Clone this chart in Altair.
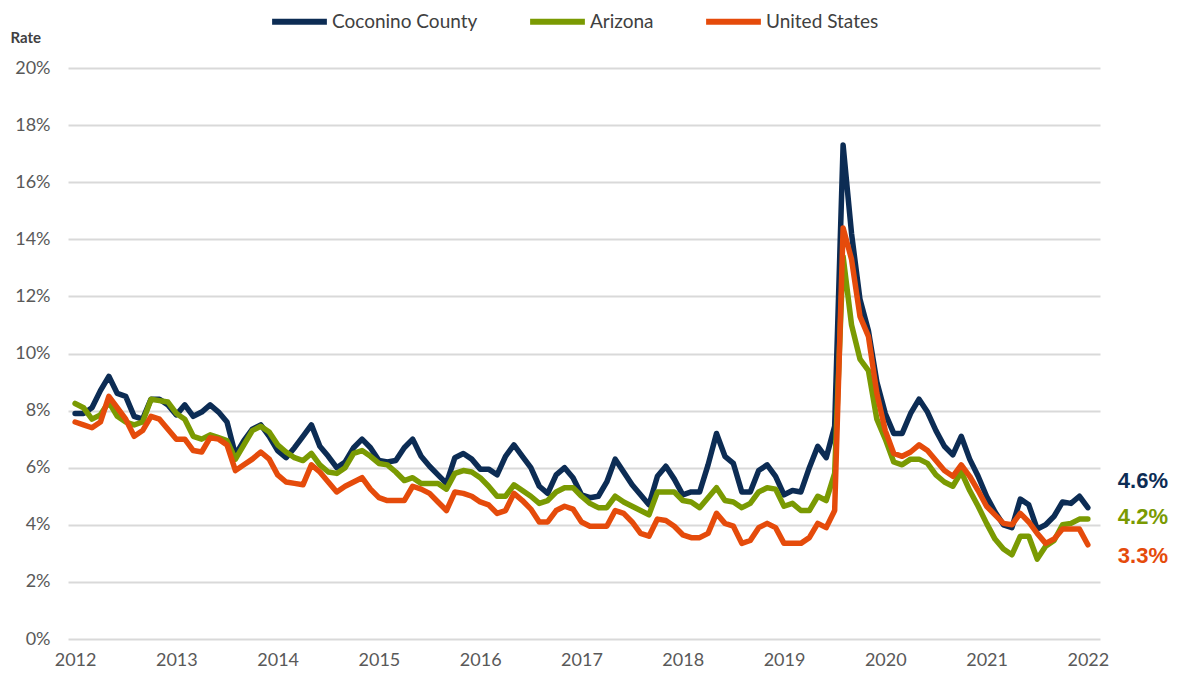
import altair as alt
import pandas as pd

series_names = ["Coconino County", "Arizona", "United States"]
colors = ["#0c2c54", "#7a9a02", "#e54b0b"]
start_year = 2012

coconino = [7.9, 7.9, 8.1, 8.7, 9.2, 8.6, 8.5, 7.8, 7.7, 8.4, 8.4, 8.2, 7.85, 8.2, 7.8, 7.95, 8.2, 7.95, 7.6, 6.45,
            6.95, 7.35, 7.5, 7.1, 6.6, 6.35, 6.7, 7.1, 7.5, 6.75, 6.4, 6.0, 6.2, 6.7, 7.0, 6.7, 6.25, 6.2, 6.25, 6.7,
            7.0, 6.4, 6.05, 5.75, 5.45, 6.35, 6.5, 6.3, 5.95, 5.95, 5.75, 6.4, 6.8, 6.4, 6.0, 5.35, 5.1, 5.75, 6.0, 5.65,
            5.05, 4.95, 5.0, 5.5, 6.3, 5.85, 5.4, 5.05, 4.7, 5.7, 6.05, 5.6, 5.05, 5.15, 5.15, 6.1, 7.2, 6.4, 6.15, 5.15,
            5.15, 5.9, 6.1, 5.7, 5.05, 5.2, 5.15, 6.0, 6.75, 6.35, 7.45, 17.3, 14.2, 11.9, 10.8, 9.0, 7.9, 7.2, 7.2, 7.9,
            8.4, 7.95, 7.3, 6.75, 6.45, 7.1, 6.3, 5.7, 5.0, 4.45, 4.0, 3.9, 4.9, 4.7, 3.85, 4.0, 4.3, 4.8, 4.75, 5.0,
            4.6]
arizona = [8.25, 8.1, 7.7, 7.85, 8.3, 7.8, 7.6, 7.5, 7.6, 8.4, 8.35, 8.3, 7.9, 7.7, 7.1, 7.0, 7.15, 7.05, 6.95, 6.3,
           6.8, 7.3, 7.45, 7.25, 6.8, 6.55, 6.35, 6.25, 6.5, 6.1, 5.85, 5.8, 6.0, 6.5, 6.6, 6.4, 6.15, 6.1, 5.85, 5.55,
           5.65, 5.45, 5.45, 5.45, 5.25, 5.8, 5.9, 5.85, 5.65, 5.35, 5.0, 5.0, 5.4, 5.2, 5.0, 4.75, 4.85, 5.15, 5.3, 5.3,
           5.0, 4.75, 4.6, 4.6, 5.0, 4.8, 4.65, 4.5, 4.35, 5.15, 5.15, 5.15, 4.85, 4.8, 4.6, 4.95, 5.3, 4.85, 4.8, 4.6,
           4.75, 5.15, 5.3, 5.25, 4.65, 4.75, 4.5, 4.5, 5.0, 4.85, 5.8, 13.4, 11.0, 9.8, 9.4, 7.7, 7.0, 6.2, 6.1, 6.3,
           6.3, 6.15, 5.75, 5.5, 5.35, 5.85, 5.2, 4.65, 4.05, 3.5, 3.15, 2.95, 3.6, 3.6, 2.8, 3.25, 3.45, 4.0, 4.05, 4.2,
           4.2]
united_states = [7.6, 7.5, 7.4, 7.6, 8.5, 8.1, 7.7, 7.1, 7.3, 7.8, 7.7, 7.35, 7.0, 7.0, 6.6, 6.55, 7.05, 7.0, 6.8, 5.9,
                 6.1, 6.3, 6.55, 6.3, 5.75, 5.5, 5.45, 5.4, 6.1, 5.85, 5.5, 5.15, 5.35, 5.5, 5.65, 5.25, 4.95, 4.85, 4.85, 4.85,
                 5.35, 5.25, 5.1, 4.8, 4.5, 5.15, 5.1, 5.0, 4.8, 4.7, 4.4, 4.5, 5.1, 4.85, 4.55, 4.1, 4.1, 4.5, 4.65, 4.55,
                 4.1, 3.95, 3.95, 3.95, 4.5, 4.4, 4.1, 3.7, 3.6, 4.2, 4.15, 3.95, 3.65, 3.55, 3.55, 3.7, 4.4, 4.05, 3.95, 3.35,
                 3.45, 3.9, 4.05, 3.9, 3.35, 3.35, 3.35, 3.55, 4.05, 3.9, 4.5, 14.4, 13.3, 11.3, 10.6, 8.6, 7.3, 6.5, 6.4, 6.55,
                 6.8, 6.6, 6.25, 5.9, 5.7, 6.1, 5.7, 5.2, 4.65, 4.35, 4.05, 4.0, 4.4, 4.1, 3.7, 3.35, 3.5, 3.85, 3.85, 3.85,
                 3.3]
end_labels = ["4.6%", "4.2%", "3.3%"]
x_ticks = list(range(2012, 2023))
y_ticks = list(range(0, 21, 2))

all_series = [coconino, arizona, united_states]
rows = []
for k, (name, vals) in enumerate(zip(series_names, all_series)):
    for i, v in enumerate(vals):
        rows.append({"series": name, "t": start_year + i / 12, "rate": v, "k": k})
df = pd.DataFrame(rows)

xscale = alt.Scale(domain=[2011.93, 2022.12], nice=False, zero=False)
yscale = alt.Scale(domain=[0, 20], nice=False)
color_scale = alt.Scale(domain=series_names, range=colors)

lines = alt.Chart(df).mark_line(strokeWidth=5.5, strokeJoin="round", strokeCap="round").encode(
    x=alt.X("t:Q", scale=xscale,
            axis=alt.Axis(values=x_ticks, format="d", title=None, grid=False, domain=False, ticks=False,
                          labelFontSize=18, labelColor="#595959", labelPadding=12, labelFont="Lato")),
    y=alt.Y("rate:Q", scale=yscale,
            axis=alt.Axis(values=y_ticks, labelExpr="datum.value + '%'", grid=True, gridColor="#d9d9d9",
                          gridWidth=2, domain=False, ticks=False, labelFontSize=18, labelColor="#595959",
                          labelPadding=18, labelFont="Lato", title="Rate", titleAngle=0, titleAlign="left",
                          titleBaseline="middle", titleX=-58, titleY=-31, titleFont="Lato", titleFontSize=15,
                          titleFontWeight="bold", titleColor="#404040")),
    color=alt.Color("series:N", scale=color_scale,
                    legend=alt.Legend(title=None, orient="none", legendX=201, legendY=-77, direction="horizontal",
                                      columns=3, symbolType="stroke", symbolStrokeWidth=6, symbolSize=3000,
                                      labelFontSize=19, labelFont="Lato", labelColor="#404040",
                                      columnPadding=40, labelOffset=2)),
    order=alt.Order("k:Q"),
)

dys = [-27, -2, 11]
layers = [lines]
for k, name in enumerate(series_names):
    lab = pd.DataFrame({"t": [start_year + (len(all_series[k]) - 1) / 12],
                        "rate": [all_series[k][-1]], "label": [end_labels[k]]})
    layers.append(
        alt.Chart(lab).mark_text(align="left", baseline="middle", dx=30, dy=dys[k], fontSize=22,
                                 fontWeight="bold", font="Liberation Sans", color=colors[k]).encode(
            x=alt.X("t:Q", scale=xscale), y=alt.Y("rate:Q", scale=yscale), text="label:N")
    )

chart = alt.layer(*layers).properties(
    width=1032, height=571,
    padding={"left": 60, "top": 60, "right": 74, "bottom": 35},
    autosize=alt.AutoSizeParams(type="none"),
).configure_view(stroke=None)

chart.save("out.html", embed_options={"renderer": "svg", "actions": False})
